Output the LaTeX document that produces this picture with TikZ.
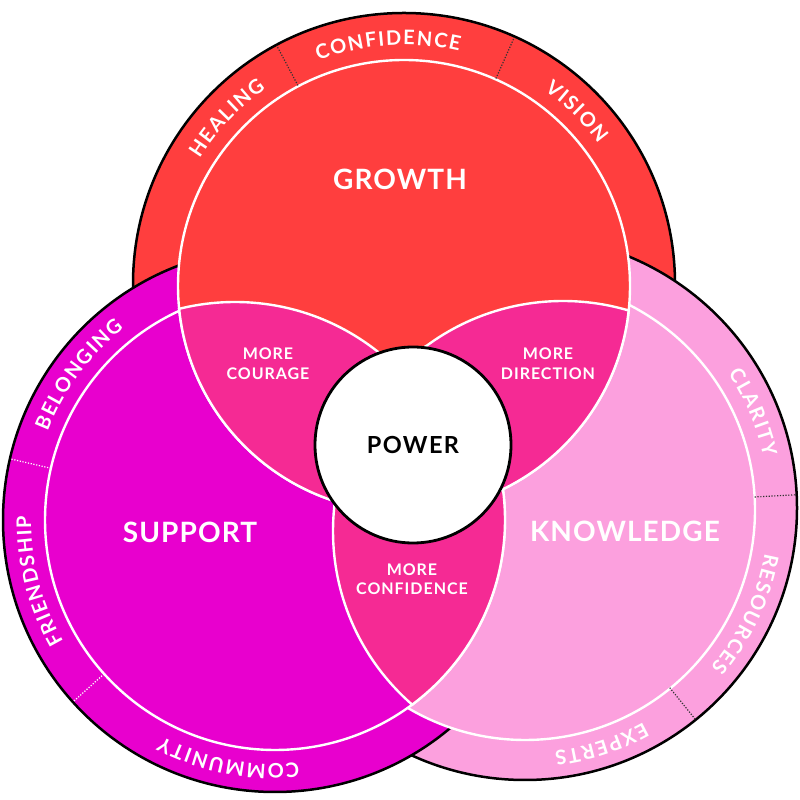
\documentclass[tikz,border=0pt]{standalone}
\usepackage{fontspec}
\newfontfamily\lato{Lato}
\newfontfamily\latotrack[LetterSpace=4]{Lato}
\newfontfamily\latolens[LetterSpace=6]{Lato}
\definecolor{cred}{RGB}{255,62,62}
\definecolor{cmag}{RGB}{232,0,206}
\definecolor{cpink}{RGB}{252,160,222}
\definecolor{chot}{RGB}{245,42,148}
\newcommand\bandfont{\lato\bfseries\fontsize{20}{21}\selectfont}
\newcommand\biglabfont{\latotrack\bfseries\fontsize{28}{30}\selectfont}
\newcommand\lensfont{\latolens\bfseries\fontsize{16}{19.5}\selectfont}
\newcommand\powfont{\latolens\bfseries\fontsize{23.5}{25}\selectfont}
% #1 name prefix, #2 cx, #3 cy, #4 baseline radius, #5 centre angle, #6 tracking, #7 letters
\newcommand\arctext[7]{%
  \begingroup
  \bandfont
  \gdef\atot{0}%
  \foreach \ch in {#7}{\pgfmathsetmacro\tmpw{\atot+width("\ch")+#6}\xdef\atot{\tmpw}}%
  \pgfmathsetmacro\astart{#5+(\atot-#6)/2/#4*180/pi}\xdef\astart{\astart}%
  \gdef\apos{0}%
  \foreach \ch [count=\k] in {#7}{%
    \pgfmathsetmacro\wch{width("\ch")}%
    \pgfmathsetmacro\arcang{\astart-(\apos+\wch/2)/#4*180/pi}%
    \node[bandletter, rotate=\arcang-90] (#1\k) at ({#2+#4*cos(\arcang)},{#3+#4*sin(\arcang)}) {\ch};%
    \pgfmathsetmacro\tmpw{\apos+\wch+#6}\xdef\apos{\tmpw}%
  }%
  \endgroup
}
\begin{document}
\begin{tikzpicture}[x=1pt,y=1pt,
  outerline/.style={draw=black, line width=2.5pt},
  innerline/.style={draw=white, line width=2.4pt},
  sepblack/.style={draw=black!80, line width=1.2pt, dash pattern=on 1.2pt off 1.6pt},
  sepwhite/.style={draw=white, line width=1.2pt, dash pattern=on 1.2pt off 1.6pt},
  bandletter/.style={text=white, font=\bandfont, inner sep=0pt, anchor=base},
  biglabel/.style={text=white, font=\biglabfont, inner sep=0pt},
  lenslabel/.style={text=white, font=\lensfont, inner sep=0pt, align=center}]
\useasboundingbox (0,0) rectangle (800,800);
\fill[white] (0,0) rectangle (800,800);
\coordinate (cT) at (404,514);
\coordinate (cL) at (275,280);
\coordinate (cR) at (525,290);
\coordinate (cLp) at (235,268);
\coordinate (cRp) at (563,269);
% outer rings
\draw[outerline, fill=cred] (404,516) circle[radius=271];
\draw[outerline, fill=cpink] (525,292) circle[radius=272];
\draw[outerline, fill=cmag] (cL) circle[radius=272];
% inner discs
\draw[innerline, fill=cpink] (cR) circle[radius=230];
\draw[innerline, fill=cmag] (cL) circle[radius=230];
\draw[innerline, fill=cred] (cT) circle[radius=226];
% lens: more confidence (L and R')
\begin{scope}\clip (cL) circle[radius=230]; \fill[chot] (cRp) circle[radius=230];\end{scope}
\begin{scope}\clip (cL) circle[radius=231.2]; \draw[innerline] (cRp) circle[radius=230];\end{scope}
\begin{scope}\clip (cRp) circle[radius=231.2]; \draw[innerline] (cL) circle[radius=230];\end{scope}
% lens: more courage (T and L')
\begin{scope}\clip (cT) circle[radius=226]; \fill[chot] (cLp) circle[radius=230];\end{scope}
\begin{scope}\clip (cT) circle[radius=227.2]; \draw[innerline] (cLp) circle[radius=230];\end{scope}
\begin{scope}\clip (cLp) circle[radius=231.2]; \draw[innerline] (cT) circle[radius=226];\end{scope}
% lens: more direction (T and R')
\begin{scope}\clip (cT) circle[radius=226]; \fill[chot] (cRp) circle[radius=230];\end{scope}
\begin{scope}\clip (cT) circle[radius=227.2]; \draw[innerline] (cRp) circle[radius=230];\end{scope}
\begin{scope}\clip (cRp) circle[radius=231.2]; \draw[innerline] (cT) circle[radius=226];\end{scope}
% separators
\draw[sepblack, shift={(404,515)}] (118:226) -- (118:271);
\draw[sepblack, shift={(404,515)}] (66:226) -- (66:271);
\draw[sepwhite, shift={(275,280)}] (167:230) -- (167:272);
\draw[sepwhite, shift={(275,280)}] (222:230) -- (222:272);
\draw[sepblack, shift={(525,291)}] (3:230) -- (3:272);
\draw[sepblack, shift={(525,291)}] (-51:230) -- (-51:272);
% band texts
\arctext{heal}{404}{514}{241}{136.5}{1.6}{H,E,A,L,I,N,G}
\arctext{conf}{404}{514}{241}{93.8}{1.6}{C,O,N,F,I,D,E,N,C,E}
\arctext{vis}{404}{514}{241}{45.3}{1.6}{V,I,S,I,O,N}
\arctext{bel}{275}{280}{244}{143.5}{1.6}{B,E,L,O,N,G,I,N,G}
\arctext{fri}{275}{280}{244}{194.5}{1.6}{F,R,I,E,N,D,S,H,I,P}
\arctext{com}{275}{280}{244}{259}{1.6}{C,O,M,M,U,N,I,T,Y}
\arctext{cla}{525}{291}{244}{23}{1.6}{C,L,A,R,I,T,Y}
\arctext{res}{525}{291}{244}{-25.5}{1.6}{R,E,S,O,U,R,C,E,S}
\arctext{exp}{525}{291}{244}{-72}{1.6}{E,X,P,E,R,T,S}
% power
\node[circle, draw=black, line width=2.8pt, fill=white, minimum size=196pt, inner sep=0pt, text=black, font=\powfont] (power) at (413,355) {POWER};
% labels
\node[biglabel] (growth) at (400,621) {GROWTH};
\node[biglabel] (support) at (190,268) {SUPPORT};
\node[biglabel] (knowledge) at (625,269) {KNOWLEDGE};
\node[lenslabel] (courage) at (268,436.5) {MORE\\COURAGE};
\node[lenslabel] (direction) at (548,436.5) {MORE\\DIRECTION};
\node[lenslabel] (confid) at (412,221) {MORE\\CONFIDENCE};
\end{tikzpicture}
\end{document}
